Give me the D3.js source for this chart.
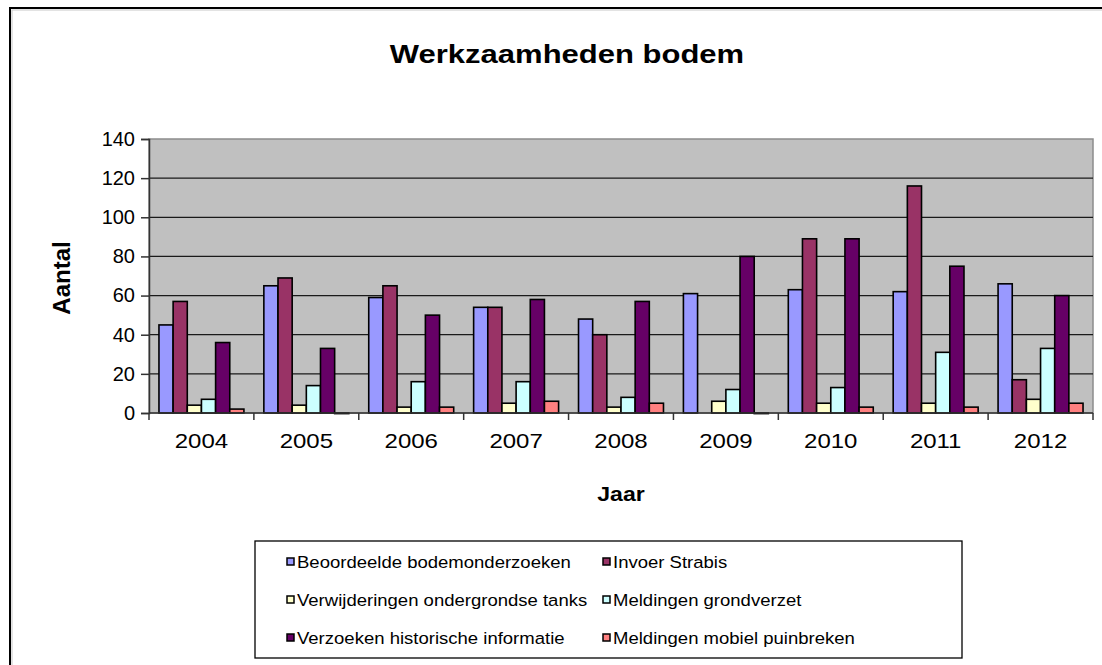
<!DOCTYPE html>
<html>
<head>
<meta charset="utf-8">
<script src="https://cdn.jsdelivr.net/npm/d3@7"></script>
<style>
  body { margin: 0; background: #fff; }
  text { font-family: Arial, "Liberation Sans", sans-serif; fill: #000; }
</style>
</head>
<body>
<svg width="1102" height="665"></svg>
<script>
var years = ["2004", "2005", "2006", "2007", "2008", "2009", "2010", "2011", "2012"];
var seriesNames = [
    "Beoordeelde bodemonderzoeken",
    "Invoer Strabis",
    "Verwijderingen ondergrondse tanks",
    "Meldingen grondverzet",
    "Verzoeken historische informatie",
    "Meldingen mobiel puinbreken"
];
var seriesColors = ["#9999ff", "#993366", "#ffffcc", "#ccffff", "#660066", "#ff8080"];

// one array per series, one value per year (null = no bar)
var beoordeeld = [45, 65, 59, 54, 48, 61, 63, 62, 66];
var strabis    = [57, 69, 65, 54, 40, null, 89, 116, 17];
var tanks      = [4, 4, 3, 5, 3, 6, 5, 5, 7];
var grondverzet = [7, 14, 16, 16, 8, 12, 13, 31, 33];
var historisch = [36, 33, 50, 58, 57, 80, 89, 75, 60];
var puinbreken = [2, 0, 3, 6, 5, 0, 3, 3, 5];
var yTicks = [0, 20, 40, 60, 80, 100, 120, 140];

var seriesValues = [beoordeeld, strabis, tanks, grondverzet, historisch, puinbreken];

var svg = d3.select("svg");
var plot = { left: 149, right: 1093, top: 139, bottom: 413 };

// text that is a bit wider than the font draws it (the original is stretched)
function wideText(sel, x, y, sx) {
    return sel.append("text")
        .attr("transform", "translate(" + x + "," + y + ") scale(" + sx + ",1)");
}

// outer chart frame (runs off the right and bottom of the picture)
svg.append("rect")
    .attr("x", 10).attr("y", 8)
    .attr("width", 1200).attr("height", 800)
    .attr("fill", "#fff")
    .attr("stroke", "#000")
    .attr("stroke-width", 2);
svg.append("rect")
    .attr("x", 12).attr("y", 10)
    .attr("width", 1200).attr("height", 800)
    .attr("fill", "none")
    .attr("stroke", "#c8c8c8")
    .attr("stroke-width", 1);

var x0 = d3.scaleBand()
    .domain(years)
    .range([plot.left, plot.right])
    .padding(0);

var x1 = d3.scaleBand()
    .domain(d3.range(seriesNames.length))
    .range([x0.bandwidth() * 0.095, x0.bandwidth() * 0.905])
    .padding(0);

var y = d3.scaleLinear()
    .domain([0, 140])
    .range([plot.bottom, plot.top]);

// plot background
svg.append("rect")
    .attr("x", plot.left).attr("y", plot.top)
    .attr("width", plot.right - plot.left)
    .attr("height", plot.bottom - plot.top)
    .attr("fill", "#c0c0c0")
    .attr("stroke", "#8c8c8c")
    .attr("stroke-width", 1.5);

// gridlines
svg.append("g")
    .selectAll("line")
    .data(yTicks.slice(1, -1))
    .enter().append("line")
    .attr("x1", plot.left).attr("x2", plot.right)
    .attr("y1", function (d) { return y(d); })
    .attr("y2", function (d) { return y(d); })
    .attr("stroke", "#1a1a1a")
    .attr("stroke-width", 1.3);

// bars
var groups = svg.append("g")
    .selectAll("g")
    .data(years)
    .enter().append("g")
    .attr("transform", function (d) { return "translate(" + x0(d) + ",0)"; });

groups.selectAll("rect")
    .data(function (d, i) {
        return seriesValues.map(function (vals, s) { return { s: s, v: vals[i] }; })
            .filter(function (e) { return e.v !== null; });
    })
    .enter().append("rect")
    .attr("x", function (d) { return x1(d.s); })
    .attr("width", x1.bandwidth())
    .attr("y", function (d) { return y(d.v); })
    .attr("height", function (d) { return Math.max(0.6, y(0) - y(d.v)); })
    .attr("fill", function (d) { return seriesColors[d.s]; })
    .attr("stroke", "#000")
    .attr("stroke-width", 1.6);

// y axis
var yAxis = d3.axisLeft(y)
    .tickValues(yTicks)
    .tickSize(8)
    .tickPadding(6)
    .tickFormat(d3.format("d"));
var yg = svg.append("g")
    .attr("transform", "translate(" + plot.left + ",0)")
    .call(yAxis);
yg.select(".domain").attr("stroke", "#333").attr("stroke-width", 1.5);
yg.selectAll(".tick line").attr("stroke", "#333").attr("stroke-width", 1.5);
yg.selectAll(".tick text")
    .attr("font-size", 20)
    .attr("font-family", "Arial, 'Liberation Sans', sans-serif");

// x axis (ticks between the year groups)
var xAxisLine = svg.append("g");
xAxisLine.append("line")
    .attr("x1", plot.left).attr("x2", plot.right)
    .attr("y1", plot.bottom).attr("y2", plot.bottom)
    .attr("stroke", "#333").attr("stroke-width", 1.5);
xAxisLine.selectAll(".xt")
    .data(years.concat(["end"]))
    .enter().append("line")
    .attr("class", "xt")
    .attr("x1", function (d, i) { return plot.left + i * x0.step(); })
    .attr("x2", function (d, i) { return plot.left + i * x0.step(); })
    .attr("y1", plot.bottom).attr("y2", plot.bottom + 7)
    .attr("stroke", "#333").attr("stroke-width", 1.5);
years.forEach(function (d) {
    wideText(xAxisLine, x0(d) + x0.bandwidth() / 2, 448, 1.2)
        .attr("text-anchor", "middle")
        .attr("font-size", 20)
        .text(d);
});

// titles
wideText(svg, 567, 63, 1.24)
    .attr("text-anchor", "middle")
    .attr("font-size", 25)
    .attr("font-weight", "bold")
    .text("Werkzaamheden bodem");

wideText(svg, 621, 501, 1.1)
    .attr("text-anchor", "middle")
    .attr("font-size", 21)
    .attr("font-weight", "bold")
    .text("Jaar");

svg.append("text")
    .attr("transform", "translate(70,278) rotate(-90)")
    .attr("text-anchor", "middle")
    .attr("font-size", 24)
    .attr("font-weight", "bold")
    .text("Aantal");

// legend
var legend = svg.append("g");
legend.append("rect")
    .attr("x", 255).attr("y", 541)
    .attr("width", 707).attr("height", 117)
    .attr("fill", "#fff")
    .attr("stroke", "#000")
    .attr("stroke-width", 1.3);

var legendItems = legend.selectAll(".item")
    .data(seriesNames)
    .enter().append("g")
    .attr("class", "item")
    .attr("transform", function (d, i) {
        var col = i % 2, row = Math.floor(i / 2);
        return "translate(" + (287 + col * 316) + "," + (562 + row * 38) + ")";
    });
legendItems.append("rect")
    .attr("x", 0).attr("y", -4)
    .attr("width", 7).attr("height", 7)
    .attr("fill", function (d, i) { return seriesColors[i]; })
    .attr("stroke", "#000")
    .attr("stroke-width", 1.5);
legendItems.append("text")
    .attr("transform", "translate(10,6) scale(1.09,1)")
    .attr("font-size", 17)
    .text(function (d) { return d; });
</script>
</body>
</html>
